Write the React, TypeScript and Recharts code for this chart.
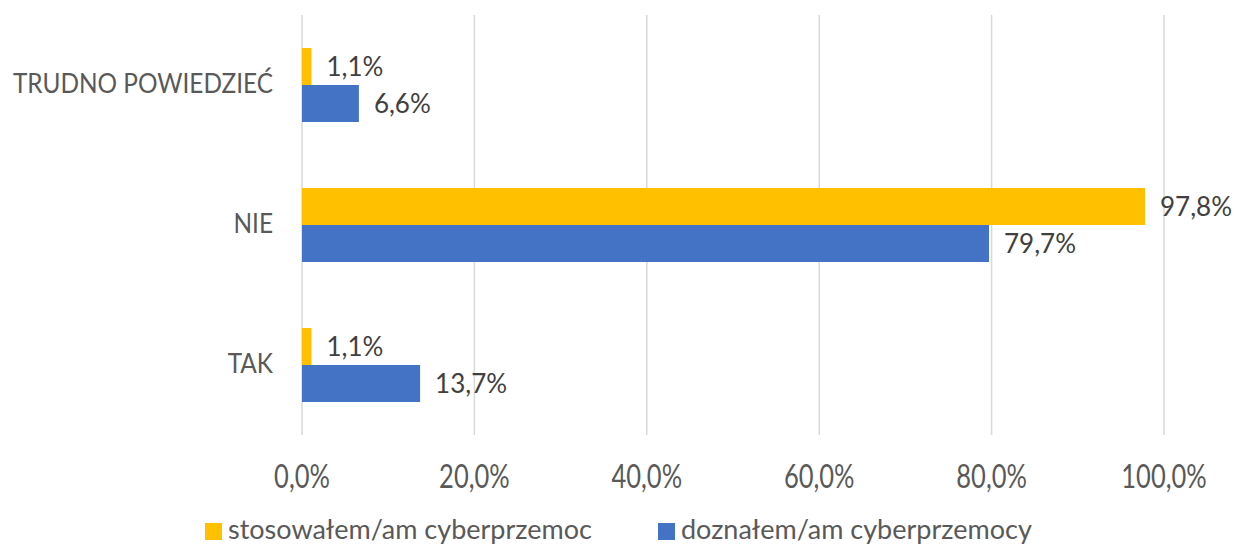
import React from "react";
import { BarChart, Bar, XAxis, YAxis, CartesianGrid, Legend, LabelList } from "recharts";

const categories = ["TRUDNO POWIEDZIEĆ", "NIE", "TAK"];
const stosowalem = [1.1, 97.8, 1.1];
const doznalem = [6.6, 79.7, 13.7];
const xTicks = [0, 20, 40, 60, 80, 100];
const seriesNames = ["stosowałem/am cyberprzemoc", "doznałem/am cyberprzemocy"];
const seriesColors = ["#FFC000", "#4472C4"];
const legendLefts = [205, 658];

const data = categories.map((name, i) => ({ name, s: stosowalem[i], d: doznalem[i] }));

const fmt = (v: number) => v.toFixed(1).replace(".", ",") + "%";
const FONT = "Lato, 'Open Sans', sans-serif";

const XTick = (props: any) => {
  const { x, y, payload } = props;
  return (
    <g transform={`translate(${x},${y}) scale(1,1.25)`}>
      <text x={0} y={0} dy="0.72em" textAnchor="middle" fill="#595959" fontSize={25.5} fontFamily={FONT}>
        {fmt(Number(payload.value))}
      </text>
    </g>
  );
};

const YTick = (props: any) => {
  const { x, y, payload } = props;
  return (
    <g transform={`translate(${x},${y}) scale(1,1.08)`}>
      <text x={0} y={0} dy="0.3em" textAnchor="end" fill="#595959" fontSize={24.4} fontFamily={FONT}>
        {payload.value}
      </text>
    </g>
  );
};

const LegendContent = () => (
  <div style={{ position: "relative", width: 1242, height: 40, fontFamily: FONT, fontSize: 27, lineHeight: "27px", color: "#595959" }}>
    {seriesNames.map((n, i) => (
      <React.Fragment key={n}>
        <span style={{ position: "absolute", left: legendLefts[i], top: 18, width: 17, height: 17, background: seriesColors[i] }} />
        <span style={{ position: "absolute", left: legendLefts[i] + 23, top: 10, whiteSpace: "nowrap" }}>{n}</span>
      </React.Fragment>
    ))}
  </div>
);

export default function App() {
  return (
    <div style={{ position: "absolute", left: 0, top: 0, width: 1242, height: 545, background: "#fff", overflow: "hidden" }}>
      <BarChart
        width={1242}
        height={545}
        data={data}
        layout="vertical"
        margin={{ top: 15, right: 78, bottom: 0, left: 0 }}
        barCategoryGap="23.6%"
        barGap={0}
      >
        <CartesianGrid horizontal={false} vertical={true} stroke="#d9d9d9" strokeWidth={1.5} />
        <XAxis
          type="number"
          domain={[0, 100]}
          ticks={xTicks}
          axisLine={false}
          tickLine={false}
          tickMargin={24}
          height={70}
          tick={<XTick />}
          interval={0}
        />
        <YAxis
          type="category"
          dataKey="name"
          width={302}
          axisLine={false}
          tickLine={false}
          tickMargin={23}
          tick={<YTick />}
        />
        <Legend verticalAlign="bottom" height={40} content={<LegendContent />} />
        <Bar dataKey="s" name={seriesNames[0]} fill={seriesColors[0]} isAnimationActive={false}>
          <LabelList dataKey="s" position="right" offset={15} formatter={(v: any) => fmt(Number(v))} style={{ fill: "#404040", fontSize: 26, fontFamily: FONT }} />
        </Bar>
        <Bar dataKey="d" name={seriesNames[1]} fill={seriesColors[1]} isAnimationActive={false}>
          <LabelList dataKey="d" position="right" offset={15} formatter={(v: any) => fmt(Number(v))} style={{ fill: "#404040", fontSize: 26, fontFamily: FONT }} />
        </Bar>
      </BarChart>
    </div>
  );
}
